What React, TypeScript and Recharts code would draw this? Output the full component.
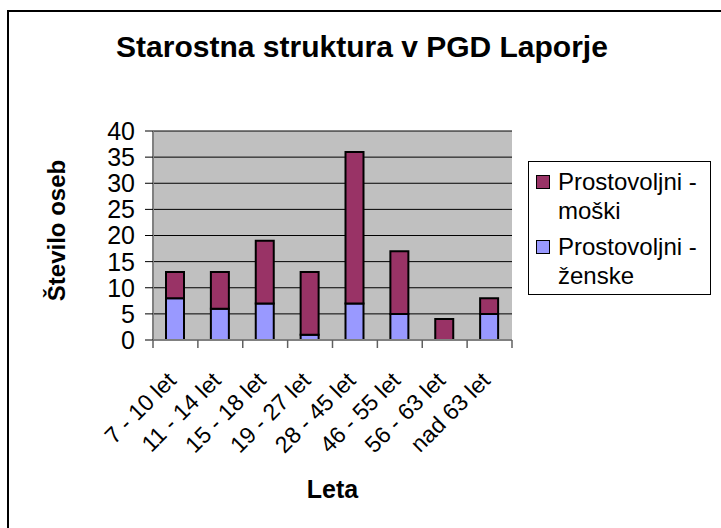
import React from 'react';
import {
    BarChart,
    Bar,
    XAxis,
    YAxis,
    CartesianGrid,
    Legend,
} from 'recharts';

const categories = ['7 - 10 let', '11 - 14 let', '15 - 18 let', '19 - 27 let', '28 - 45 let', '46 - 55 let', '56 - 63 let', 'nad 63 let'];
const women = [8, 6, 7, 1, 7, 5, 0, 5];
const men = [5, 7, 12, 12, 29, 12, 4, 3];
const yTicks = [0, 5, 10, 15, 20, 25, 30, 35, 40];

const MEN_NAME = 'Prostovoljni - moški';
const WOMEN_NAME = 'Prostovoljni - ženske';
const FONT = "'Liberation Sans', Arial, sans-serif";

const data = categories.map((age, i) => ({ age, women: women[i], men: men[i] }));

const CategoryTick = (props: any) => {
    const { x, y, payload } = props;
    const half = payload.offset || 359 / 16;
    const last = payload.index === categories.length - 1;
    return (
        <g>
            <line x1={x - half} x2={x - half} y1={y - 8} y2={y} stroke="#606060" strokeWidth={1.5} />
            {last && <line x1={x + half} x2={x + half} y1={y - 8} y2={y} stroke="#606060" strokeWidth={1.5} />}
            <text
                transform={`translate(${x + 2},${y + 34}) rotate(-45)`}
                textAnchor="end"
                fontFamily={FONT}
                fontSize={23}
                fill="#000"
            >
                {payload.value}
            </text>
        </g>
    );
};

const LegendBox = ({ payload }: any) => {
    const items = [...(payload || [])].sort((a: any) => (a.value === MEN_NAME ? -1 : 1));
    return (
        <div
            style={{
                width: 183,
                height: 134,
                boxSizing: 'border-box',
                border: '1px solid #000',
                background: '#fff',
                paddingTop: 5,
                paddingLeft: 7,
                fontFamily: FONT,
                fontSize: 24,
                lineHeight: '29px',
                color: '#000',
                textAlign: 'left',
            }}
        >
            {items.map((entry: any, i: number) => {
                const [first, second] = String(entry.value).split(' - ');
                return (
                    <div key={entry.value} style={{ display: 'flex', marginTop: i === 0 ? 0 : 7 }}>
                        <div
                            style={{
                                width: 14,
                                height: 14,
                                boxSizing: 'border-box',
                                border: '1.5px solid #000',
                                background: entry.color,
                                marginTop: 8,
                                marginRight: 8,
                                flexShrink: 0,
                            }}
                        />
                        <div>
                            {first} -<br />
                            {second}
                        </div>
                    </div>
                );
            })}
        </div>
    );
};

export default function App() {
    return (
        <div style={{ position: 'absolute', left: 0, top: 0, width: 721, height: 528, background: '#fff', overflow: 'hidden' }}>
            <div
                style={{
                    position: 'absolute',
                    left: 7,
                    top: 10,
                    width: 800,
                    height: 600,
                    borderLeft: '2px solid #000',
                    borderTop: '2px solid #000',
                }}
            />
            <div
                style={{
                    position: 'absolute',
                    left: 0,
                    top: 31,
                    width: 724,
                    textAlign: 'center',
                    fontFamily: FONT,
                    fontWeight: 'bold',
                    fontSize: 30,
                    lineHeight: '32px',
                    color: '#000',
                }}
            >
                Starostna struktura v PGD Laporje
            </div>
            <div style={{ position: 'absolute', left: 0, top: 0 }}>
                <BarChart
                    width={721}
                    height={528}
                    data={data}
                    margin={{ top: 131, right: 209, left: 103, bottom: 38 }}
                >
                    <CartesianGrid vertical={false} fill="#C0C0C0" stroke="#000" strokeWidth={1} />
                    <XAxis
                        dataKey="age"
                        interval={0}
                        height={150}
                        tickSize={8}
                        tickMargin={0}
                        tickLine={false}
                        axisLine={{ stroke: '#808080', strokeWidth: 2 }}
                        tick={<CategoryTick />}
                        label={{
                            content: ({ viewBox }: any) => (
                                <text
                                    x={viewBox.x + viewBox.width / 2}
                                    y={viewBox.y + 158}
                                    textAnchor="middle"
                                    fontFamily={FONT}
                                    fontWeight="bold"
                                    fontSize={25}
                                    fill="#000"
                                >
                                    Leta
                                </text>
                            ),
                        }}
                    />
                    <XAxis
                        xAxisId="top"
                        dataKey="age"
                        orientation="top"
                        height={0}
                        tick={false}
                        tickLine={false}
                        axisLine={{ stroke: '#808080', strokeWidth: 2 }}
                    />
                    <YAxis
                        domain={[0, 40]}
                        ticks={yTicks}
                        interval={0}
                        width={50}
                        tickSize={8}
                        tickMargin={10}
                        tickLine={{ stroke: '#000' }}
                        axisLine={{ stroke: '#808080', strokeWidth: 2 }}
                        tick={{ fill: '#000', fontFamily: FONT, fontSize: 25 }}
                        label={{
                            content: ({ viewBox }: any) => {
                                const cx = viewBox.x - 38;
                                const cy = viewBox.y + viewBox.height / 2 - 5;
                                return (
                                    <text
                                        x={cx}
                                        y={cy}
                                        transform={`rotate(-90 ${cx} ${cy})`}
                                        textAnchor="middle"
                                        fontFamily={FONT}
                                        fontWeight="bold"
                                        fontSize={24}
                                        fill="#000"
                                    >
                                        Število oseb
                                    </text>
                                );
                            },
                        }}
                    />
                    <YAxis
                        yAxisId="right"
                        orientation="right"
                        domain={[0, 40]}
                        width={0}
                        tick={false}
                        tickLine={false}
                        axisLine={{ stroke: '#808080', strokeWidth: 2 }}
                    />
                    <Legend
                        layout="horizontal"
                        verticalAlign="middle"
                        align="center"
                        content={<LegendBox />}
                        wrapperStyle={{ position: 'absolute', left: 528, top: 161, width: 183, height: 134 }}
                    />
                    <Bar
                        dataKey="women"
                        name={WOMEN_NAME}
                        stackId="a"
                        fill="#9999FF"
                        stroke="#000"
                        strokeWidth={2}
                        barSize={18}
                        isAnimationActive={false}
                    />
                    <Bar
                        dataKey="men"
                        name={MEN_NAME}
                        stackId="a"
                        fill="#993366"
                        stroke="#000"
                        strokeWidth={2}
                        barSize={18}
                        isAnimationActive={false}
                    />
                </BarChart>
            </div>
        </div>
    );
}
